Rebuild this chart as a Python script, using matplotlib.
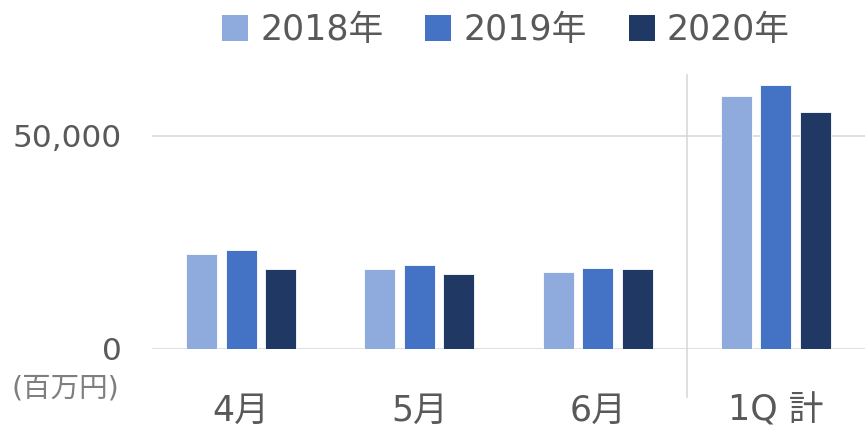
import numpy as np
import matplotlib.pyplot as plt
from matplotlib.patches import Patch

plt.rcParams['font.family'] = ['DejaVu Sans', 'Noto Sans CJK JP']

categories = ['4月', '5月', '6月', '1Q 計']
years = ['2018年', '2019年', '2020年']
v2018 = [22200, 18700, 18150, 59300]
v2019 = [23250, 19650, 18950, 61950]
v2020 = [18850, 17600, 18800, 55550]
colors = ['#8FAADC', '#4472C4', '#203864']

W, H = 865, 428
fig = plt.figure(figsize=(W / 100, H / 100), dpi=100)
ax = fig.add_axes([152 / W, 1 - 349 / H, 1 - 152 / W, (349 - 75) / H])

x = np.arange(len(categories))
step = 0.221
width = 0.174
for i, (vals, c) in enumerate(zip([v2018, v2019, v2020], colors)):
    ax.bar(x + (i - 1) * step, vals, width, color=c, edgecolor='white',
           linewidth=0.6, zorder=3)

ax.set_xlim(-0.5, 3.5)
ax.set_ylim(0, 64300)
ax.set_yticks([0, 50000])
ax.set_yticklabels(['0', '50,000'])
ax.yaxis.grid(True, color='#d9d9d9', linewidth=1.2, zorder=0)
ax.set_axisbelow(True)
ax.tick_params(axis='y', length=0, pad=22, labelsize=22.5, labelcolor='#595959')
ax.tick_params(axis='x', length=0, pad=32, labelsize=25, labelcolor='#595959')
ax.set_xticks(x)
ax.set_xticklabels(categories)
for s in ax.spines.values():
    s.set_visible(False)

# separator between monthly and quarterly totals
ax.axvline(2.5, ymin=-0.175, ymax=1.0, color='#d9d9d9', linewidth=1.2,
           clip_on=False, zorder=1)

fig.text(12 / W, 1 - 388 / H, '(百万円)', fontsize=20.5, color='#7f7f7f',
         va='center', ha='left')

handles = [Patch(facecolor=c, edgecolor='none') for c in colors]
fig.legend(handles, years, loc='center', bbox_to_anchor=(0.585, 1 - 30 / H),
           ncol=3, frameon=False, fontsize=25, labelcolor='#595959',
           handlelength=0.75, handleheight=0.75, handletextpad=0.35,
           columnspacing=1.2)

fig.savefig('out.png', dpi=100)
